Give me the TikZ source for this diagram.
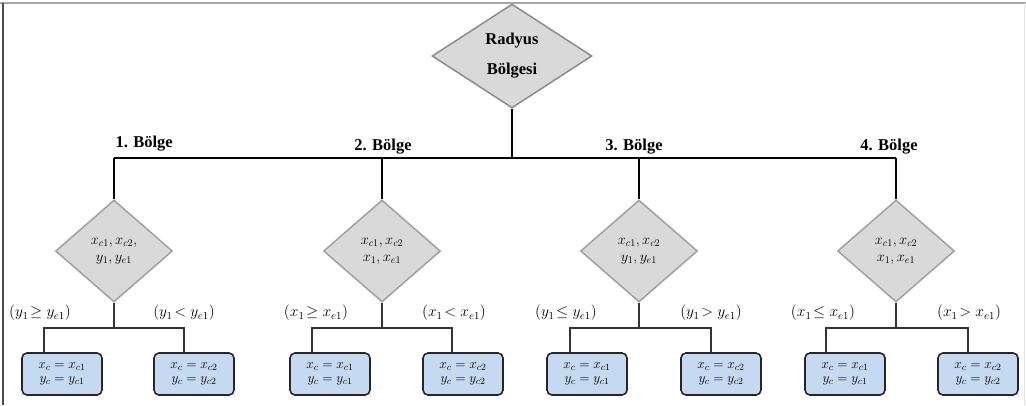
\RequirePackage{fix-cm}
\documentclass[tikz,border=0pt]{standalone}
\usepackage{fontspec}
\setmainfont{Liberation Serif}
\usetikzlibrary{shapes.geometric}

\definecolor{diafill}{RGB}{217,217,217}
\definecolor{diadraw}{RGB}{160,160,160}
\definecolor{boxfill}{RGB}{197,217,241}

\tikzset{
  region/.style={diamond, draw=diadraw, fill=diafill, line width=1.5pt, inner sep=0pt,
    minimum width=117, minimum height=102, align=center,
    font=\fontsize{14.5}{17}\selectfont},
  result/.style={rectangle, rounded corners=5pt, draw=black!85, fill=boxfill, line width=1.6pt,
    minimum width=80, minimum height=42, align=center, inner sep=0pt,
    font=\fontsize{13.5}{14}\selectfont},
  zone/.style={font=\bfseries\fontsize{16.5}{18}\selectfont},
  cond/.style={font=\fontsize{15.5}{15}\selectfont},
  trunk/.style={line width=2pt, black},
  twig/.style={line width=1.3pt, black!80}
}

\begin{document}
\begin{tikzpicture}[x=1pt, y=-1pt]
  \useasboundingbox (0,0) rectangle (1026,405);
  % frame
  \draw[black!35, line width=2.2pt] (0,3) -- (1026,3);
  \draw[black!70, line width=1.3pt] (3,3) -- (3,405);
  \draw[black!12, line width=0.8pt] (1024,3) -- (1024,405);

  % root and the four regions
  \node[region, minimum width=160, minimum height=104, draw=black!45,
        font=\bfseries\fontsize{16.5}{30}\selectfont] (R) at (512,56) {Radyus\\Bölgesi};

  \coordinate (H1) at (114,158);
  \coordinate (H4) at (896,158);
  \draw[trunk] (R.south) -- (R.south |- H1);
  \draw[trunk] (H1) -- (H4);

  \node[zone, anchor=south west] (T1) at (112,155) {1. Bölge};
  \node[zone] (T2) at (383,147) {2. Bölge};
  \node[zone] (T3) at (634,147) {3. Bölge};
  \node[zone] (T4) at (889,147) {4. Bölge};

  \node[region] (D1) at (114,251) {$x_{c1}, x_{c2},$\\$y_1, y_{e1}$};
  \node[region] (D2) at (382,251) {$x_{c1}, x_{c2}$\\$x_1, x_{e1}$};
  \node[region] (D3) at (639,251) {$x_{c1}, x_{c2}$\\$y_1, y_{e1}$};
  \node[region] (D4) at (896,251) {$x_{c1}, x_{c2}$\\$x_1, x_{e1}$};

  \draw[trunk] (D1.north) -- (D1.north |- H1);
  \draw[trunk] (D2.north) -- (D2.north |- H1);
  \draw[trunk] (D3.north) -- (D3.north |- H1);
  \draw[trunk] (D4.north) -- (D4.north |- H1);

  % results
  \node[result] (B1a) at (62,374)  {$x_c = x_{c1}$\\$y_c = y_{c1}$};
  \node[result] (B1b) at (194,374) {$x_c = x_{c2}$\\$y_c = y_{c2}$};
  \node[result] (B2a) at (330,374) {$x_c = x_{c1}$\\$y_c = y_{c1}$};
  \node[result] (B2b) at (463,374) {$x_c = x_{c2}$\\$y_c = y_{c2}$};
  \node[result] (B3a) at (587,374) {$x_c = x_{c1}$\\$y_c = y_{c1}$};
  \node[result] (B3b) at (721,374) {$x_c = x_{c2}$\\$y_c = y_{c2}$};
  \node[result] (B4a) at (845,374) {$x_c = x_{c1}$\\$y_c = y_{c1}$};
  \node[result] (B4b) at (978,374) {$x_c = x_{c2}$\\$y_c = y_{c2}$};

  \coordinate (J1a) at (44,328);  \coordinate (J1b) at (184,328);
  \coordinate (J2a) at (312,328); \coordinate (J2b) at (452,328);
  \coordinate (J3a) at (570,328); \coordinate (J3b) at (711,328);
  \coordinate (J4a) at (826,328); \coordinate (J4b) at (968,328);

  \draw[twig] (D1.south) -- (D1.south |- J1a);
  \draw[twig] (J1a |- B1a.north) -- (J1a) -- (J1b) -- (J1b |- B1b.north);
  \draw[twig] (D2.south) -- (D2.south |- J2a);
  \draw[twig] (J2a |- B2a.north) -- (J2a) -- (J2b) -- (J2b |- B2b.north);
  \draw[twig] (D3.south) -- (D3.south |- J3a);
  \draw[twig] (J3a |- B3a.north) -- (J3a) -- (J3b) -- (J3b |- B3b.north);
  \draw[twig] (D4.south) -- (D4.south |- J4a);
  \draw[twig] (J4a |- B4a.north) -- (J4a) -- (J4b) -- (J4b |- B4b.north);

  % conditions
  \node[cond] (C1a) at (40,313)  {$(y_1\!\geq y_{e1})$};
  \node[cond] (C1b) at (184,313) {$(y_1\!< y_{e1})$};
  \node[cond] (C2a) at (316,313) {$(x_1\!\geq x_{e1})$};
  \node[cond] (C2b) at (454,313) {$(x_1\!< x_{e1})$};
  \node[cond] (C3a) at (566,313) {$(y_1\!\leq y_{e1})$};
  \node[cond] (C3b) at (711,313) {$(y_1\!> y_{e1})$};
  \node[cond] (C4a) at (823,313) {$(x_1\!\leq x_{e1})$};
  \node[cond] (C4b) at (969,313) {$(x_1\!> x_{e1})$};
\end{tikzpicture}
\end{document}
